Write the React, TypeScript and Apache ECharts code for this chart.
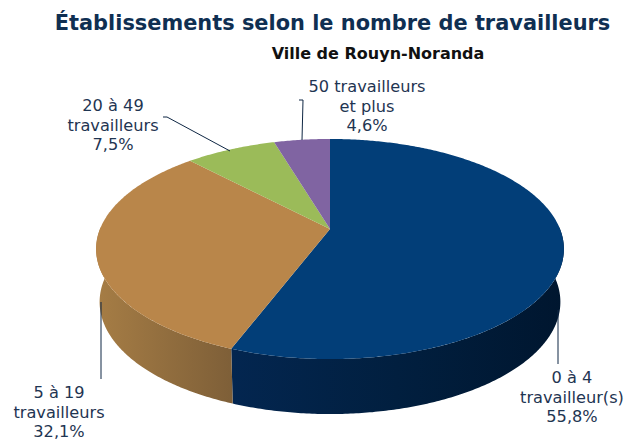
import React, { useEffect, useRef } from "react";
import * as echarts from "echarts";

const categories = ["0 à 4\ntravailleur(s)", "5 à 19\ntravailleurs", "20 à 49\ntravailleurs", "50 travailleurs\net plus"];
const percentLabels = ["55,8%", "32,1%", "7,5%", "4,6%"];
const values = [55.8, 32.1, 7.5, 4.6];
const topColors = ["#023E78", "#B9864A", "#9BBB59", "#8064A2"];
const sideLeft = ["#032650", "#A67D45", "#7d9647", "#675082"];
const sideRight = ["#00162F", "#7E5F38", "#7d9647", "#675082"];

const CX = 330, CY = 229, K = 0.1818, A = 230, B = 106.4;

function project(theta: number, depth: boolean): number[] {
  const u = Math.sin(theta), v = -Math.cos(theta);
  const d = 1 - K * v;
  const x = CX + ((depth ? A * 0.985 : A) * u) / d;
  const y = CY + (B * v) / d + (depth ? 50 + 2.5 * (v + 1) : 0);
  return [x, y];
}

function arcPoints(a0: number, a1: number, depth: boolean): number[][] {
  const n = Math.max(2, Math.ceil(Math.abs(a1 - a0) / 0.01));
  const pts: number[][] = [];
  for (let i = 0; i <= n; i++) pts.push(project(a0 + ((a1 - a0) * i) / n, depth));
  return pts;
}

const total = values.reduce((s, v) => s + v, 0);
const starts: number[] = [];
values.reduce((acc, v, i) => {
  starts[i] = acc;
  return acc + v;
}, 0);

function renderItem(_params: any, api: any) {
  const i = api.value(0);
  const val = api.value(1);
  const a0 = (starts[i] / total) * Math.PI * 2;
  const a1 = ((starts[i] + val) / total) * Math.PI * 2;
  const children: any[] = [];
  const lo = Math.max(a0, Math.PI / 2 - 0.02);
  const hi = Math.min(a1, (Math.PI * 3) / 2 + 0.02);
  if (hi > lo) {
    const top = arcPoints(lo, hi, false);
    const bot = arcPoints(lo, hi, true).reverse();
    const isBlue = i === 0;
    children.push({
      type: "polygon",
      shape: { points: top.concat(bot) },
      style: {
        fill: new echarts.graphic.LinearGradient(
          0, 0, 1, 0,
          isBlue
            ? [
                { offset: 0, color: sideLeft[i] },
                { offset: 0.5, color: "#011F3F" },
                { offset: 1, color: sideRight[i] },
              ]
            : [
                { offset: 0, color: sideLeft[i] },
                { offset: 1, color: sideRight[i] },
              ],
        ),
      },
      z2: 1,
      silent: true,
    });
  }
  children.push({
    type: "polygon",
    shape: { points: [[CX, CY], ...arcPoints(a0, a1, false)] },
    style: { fill: topColors[i] },
    z2: 2,
    silent: true,
  });
  return { type: "group", children };
}

const labelStyle = {
  fontFamily: "'DejaVu Sans'",
  fontSize: 16.2,
  lineHeight: 19.5,
  fill: "#1F3552",
  textAlign: "center" as const,
  textVerticalAlign: "top" as const,
};

export default function App() {
  const ref = useRef<HTMLDivElement>(null);
  useEffect(() => {
    const chart = echarts.init(ref.current!, undefined, { renderer: "svg" });
    const label = (i: number, x: number, y: number) => ({
      type: "text",
      x,
      y,
      style: { ...labelStyle, text: categories[i] + "\n" + percentLabels[i] },
      z: 10,
    });
    const line = (points: number[][]) => ({
      type: "polyline",
      shape: { points },
      style: { stroke: "#0F2744", lineWidth: 1, fill: "none" },
      z: 10,
    });
    chart.setOption({
      animation: false,
      backgroundColor: "#ffffff",
      title: [
        {
          text: "Établissements selon le nombre de travailleurs",
          left: 327.5,
          top: 7,
          textAlign: "center",
          textStyle: { fontFamily: "'DejaVu Sans'", fontWeight: "bold", fontSize: 20.9, color: "#0F2F52" },
        },
        {
          text: "Ville de Rouyn-Noranda",
          left: 373,
          top: 40,
          textAlign: "center",
          textStyle: { fontFamily: "'DejaVu Sans'", fontWeight: "bold", fontSize: 16, color: "#111111" },
        },
      ],
      series: [
        {
          type: "custom",
          coordinateSystem: "none",
          renderItem,
          data: values.map((v, i) => [i, v]),
        },
      ],
      graphic: [
        label(0, 572, 368),
        label(1, 59, 383),
        label(2, 113, 96),
        label(3, 367, 77),
        line([[558, 310], [558, 364]]),
        line([[101, 302], [101, 379]]),
        line([[163, 117], [167, 117], [230, 151]]),
        line([[299, 100], [303, 100], [302, 140]]),
      ],
    });
    return () => chart.dispose();
  }, []);
  return <div ref={ref} style={{ width: 626, height: 440, position: "absolute", left: 0, top: 0 }} />;
}
